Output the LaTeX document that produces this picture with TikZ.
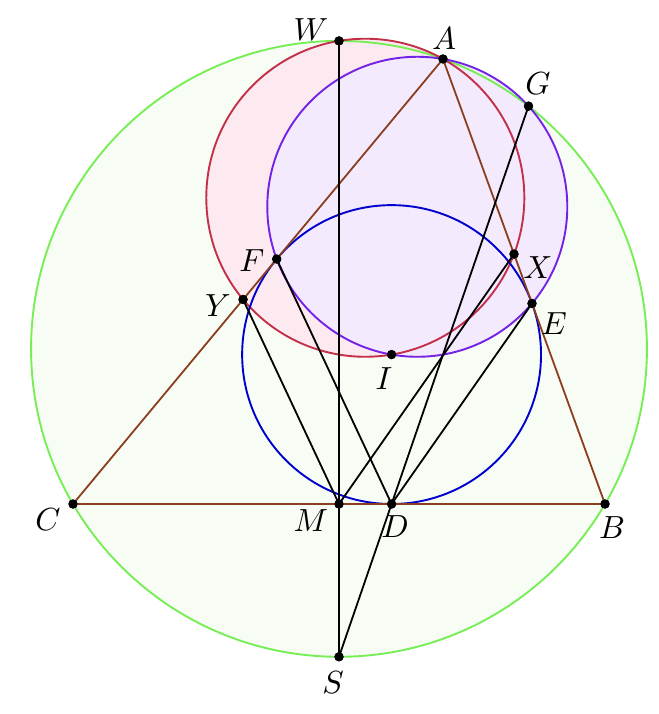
\documentclass[tikz,border=0pt]{standalone}
\begin{document}
\begin{tikzpicture}[x=1pt,y=-1pt,
  dot/.style={circle,fill=black,inner sep=0pt,minimum size=9pt},
  lbl/.style={inner sep=0pt,scale=3.2},
  tri/.style={draw=brn,line width=1.8pt},
  seg/.style={draw=black,line width=1.8pt},
  circ/.style={line width=1.9pt}]
\definecolor{grn}{HTML}{77EE55}
\definecolor{grnfill}{HTML}{F7FCF5}
\definecolor{redc}{HTML}{C3304A}
\definecolor{pinkfill}{HTML}{FDEAF0}
\definecolor{purc}{HTML}{7322E6}
\definecolor{lavfill}{HTML}{F3EAFD}
\definecolor{bluc}{HTML}{0000CC}
\definecolor{brn}{HTML}{8B3E1E}
\useasboundingbox (0,0) rectangle (658,714);
% centres
\coordinate (O) at (339,348.85);
\coordinate (Rc) at (365.30,197.74);
\coordinate (Pc) at (417.29,206.78);
% fills
\fill[grnfill] (O) circle (307.94pt);
\fill[pinkfill] (Rc) circle (159.02pt);
\fill[lavfill] (Pc) circle (150pt);
% circles
\draw[circ,grn] (O) circle (307.94pt);
\draw[circ,redc] (Rc) circle (159.02pt);
\draw[circ,purc] (Pc) circle (150pt);
\draw[circ,bluc] (391.58,354.57) circle (149.43pt);
% points
\node[dot] (A) at (443,59) {};
\node[dot] (B) at (605,504) {};
\node[dot] (C) at (73,504) {};
\node[dot] (I) at (391.58,354.57) {};
\node[dot] (D) at (391.58,504) {};
\node[dot] (E) at (531.99,303.45) {};
\node[dot] (F) at (276.68,259.03) {};
\node[dot] (M) at (339,504) {};
\node[dot] (W) at (339,40.91) {};
\node[dot] (S) at (339,656.79) {};
\node[dot] (X) at (514.01,254.06) {};
\node[dot] (Y) at (243.07,299.46) {};
\node[dot] (G) at (528.51,106.12) {};
% triangle
\draw[tri,line join=round] (A.center) -- (B.center) -- (C.center) -- cycle;
% segments
\draw[seg] (W.center) -- (S.center);
\draw[seg] (S.center) -- (G.center);
\draw[seg] (F.center) -- (D.center);
\draw[seg] (Y.center) -- (M.center);
\draw[seg] (M.center) -- (X.center);
\draw[seg] (D.center) -- (E.center);
% redraw dots on top
\foreach \p in {A,B,C,I,D,E,F,M,W,S,X,Y,G}
  \fill (\p.center) circle (4.7pt);
% labels
\node[lbl] (lW) at (311,30) {$W$};
\node[lbl] (lA) at (444,39) {$A$};
\node[lbl] (lG) at (538,84) {$G$};
\node[lbl] (lF) at (252,261) {$F$};
\node[lbl] (lX) at (538,268) {$X$};
\node[lbl] (lY) at (218,306) {$Y$};
\node[lbl] (lE) at (554,324) {$E$};
\node[lbl] (lI) at (384,379) {$I$};
\node[lbl] (lC) at (48,520) {$C$};
\node[lbl] (lM) at (311,521) {$M$};
\node[lbl] (lD) at (395,527) {$D$};
\node[lbl] (lB) at (612,528) {$B$};
\node[lbl] (lS) at (333,683) {$S$};
\end{tikzpicture}
\end{document}
